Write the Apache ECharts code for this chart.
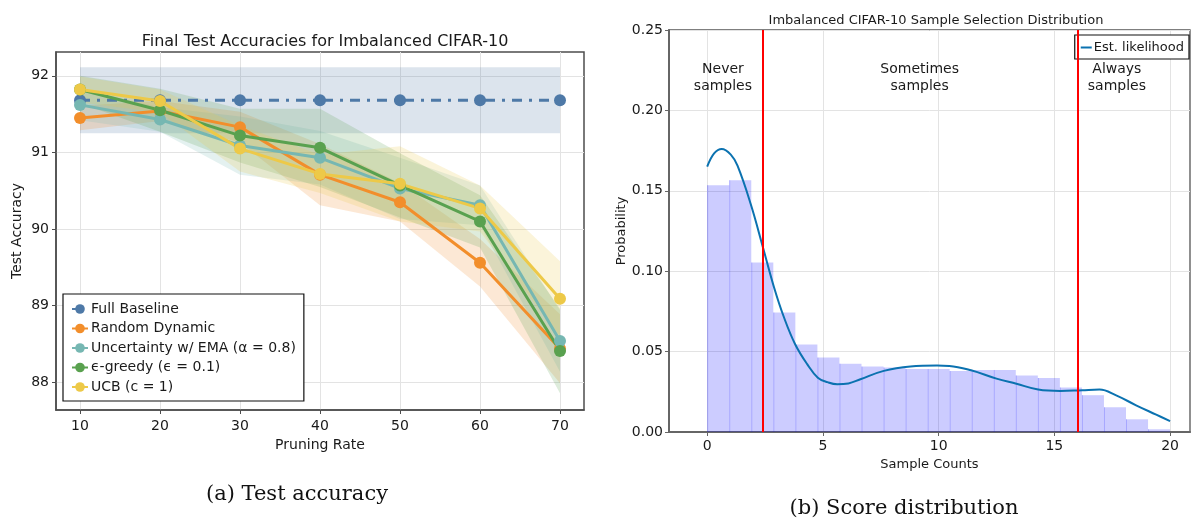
<!DOCTYPE html>
<html><head><meta charset="utf-8">
<script src="https://cdn.jsdelivr.net/npm/echarts@6/dist/echarts.min.js"></script>
<style>html,body{margin:0;padding:0;background:#fff}#c{width:1191px;height:520px}</style>
</head><body><div id="c"></div>
<script>
// ---------- Left panel data ----------
const pruningRates = [10, 20, 30, 40, 50, 60, 70];
const accTicks = [88, 89, 90, 91, 92];
const baselineMean = [91.68, 91.68, 91.68, 91.68, 91.68, 91.68, 91.68];
const baselineStd = [0.43, 0.43, 0.43, 0.43, 0.43, 0.43, 0.43];
const randomMean = [91.45, 91.54, 91.33, 90.71, 90.35, 89.56, 88.44];
const randomStd = [0.16, 0.13, 0.20, 0.40, 0.25, 0.31, 0.45];
const uncertaintyMean = [91.62, 91.43, 91.09, 90.93, 90.53, 90.31, 88.54];
const uncertaintyStd = [0.20, 0.16, 0.38, 0.35, 0.40, 0.26, 0.40];
const greedyMean = [91.82, 91.55, 91.22, 91.06, 90.57, 90.10, 88.41];
const greedyStd = [0.18, 0.28, 0.35, 0.51, 0.42, 0.34, 0.55];
const ucbMean = [91.82, 91.67, 91.05, 90.72, 90.59, 90.27, 89.09];
const ucbStd = [0.17, 0.15, 0.30, 0.25, 0.49, 0.30, 0.49];
const seriesNames = ['Full Baseline', 'Random Dynamic', 'Uncertainty w/ EMA (α = 0.8)', 'ϵ-greedy (ϵ = 0.1)', 'UCB (c = 1)'];

// ---------- Right panel data ----------
const histHeights = [0.1535, 0.1566, 0.1054, 0.0743, 0.0544, 0.0463, 0.0425, 0.0407, 0.0401, 0.0392,
  0.0392, 0.0379, 0.0386, 0.0386, 0.0352, 0.0336, 0.0277, 0.0229, 0.0154, 0.0079, 0.0017];
const histRange = [0, 20];
const kdeX = [0, 0.3, 0.63, 1.02, 1.31, 1.88, 2.41, 2.89, 3.32, 3.8, 4.32, 4.78, 5.2, 5.62, 6.1, 6.62,
  7.63, 8.78, 9.93, 10.46, 11.4, 12.5, 13.36, 14.3, 15.26, 16.2, 16.95, 17.67, 18.53, 19.4, 20];
const kdeY = [0.165, 0.1733, 0.176, 0.1725, 0.1656, 0.1418, 0.1148, 0.0899, 0.0712, 0.0546, 0.0422, 0.0338,
  0.0310, 0.0297, 0.0302, 0.0328, 0.0380, 0.0407, 0.0413, 0.0411, 0.0384, 0.0332, 0.0300, 0.0264, 0.0255,
  0.0260, 0.0264, 0.0228, 0.0166, 0.0108, 0.0068];
const thresholds = [2.4, 16.0];
const countTicks = [0, 5, 10, 15, 20];
const annotations = [
  { x: 0.68, y: 0.22, text: 'Never\nsamples' },
  { x: 9.18, y: 0.22, text: 'Sometimes\nsamples' },
  { x: 17.7, y: 0.22, text: 'Always\nsamples' }
];

// ---------- Styling ----------
const FONT = '"DejaVu Sans", sans-serif';
const colors = ['#4e79a7', '#f28e2b', '#76b7b2', '#59a14f', '#edc948'];
function rgba(hex, a) {
  const n = parseInt(hex.slice(1), 16);
  return `rgba(${(n >> 16) & 255},${(n >> 8) & 255},${n & 255},${a})`;
}
const gridLine = { show: true, lineStyle: { color: '#e3e3e3', width: 1 } };
const axisTxt = { color: '#1a1a1a', fontFamily: FONT };

const means = [baselineMean, randomMean, uncertaintyMean, greedyMean, ucbMean];
const stds = [baselineStd, randomStd, uncertaintyStd, greedyStd, ucbStd];

const series = [];
means.forEach((m, i) => {
  const s = stds[i];
  // band: one polygon through mean ± std, drawn through the axis scales
  series.push({
    type: 'custom', xAxisIndex: 0, yAxisIndex: 0, silent: true,
    encode: { x: 0, y: 1 },
    data: pruningRates.map((x, k) => [x, m[k]]),
    renderItem: (params, api) => {
      if (params.dataIndex !== 0) return null;
      const upper = pruningRates.map((x, k) => api.coord([x, m[k] + s[k]]));
      const lower = pruningRates.map((x, k) => api.coord([x, m[k] - s[k]])).reverse();
      return { type: 'polygon', shape: { points: upper.concat(lower) },
        style: { fill: rgba(colors[i], 0.2) } };
    }
  });
  series.push({
    name: seriesNames[i], type: 'line', xAxisIndex: 0, yAxisIndex: 0,
    symbol: 'circle', symbolSize: 12, showSymbol: true,
    itemStyle: { color: colors[i] },
    lineStyle: { color: colors[i], width: 3, type: i === 0 ? [10, 7, 3, 7] : 'solid' },
    emphasis: { disabled: true },
    data: pruningRates.map((x, k) => [x, m[k]])
  });
});

// histogram
const binW = (histRange[1] - histRange[0]) / histHeights.length;
const histData = histHeights.map((h, i) => [histRange[0] + i * binW, histRange[0] + (i + 1) * binW, h]);
series.push({
  type: 'custom', xAxisIndex: 1, yAxisIndex: 1, silent: true,
  encode: { x: [0, 1], y: 2 },
  data: histData,
  renderItem: (params, api) => {
    const p0 = api.coord([api.value(0), 0]);
    const p1 = api.coord([api.value(1), api.value(2)]);
    return {
      type: 'group', children: [
        { type: 'rect', shape: { x: p0[0], y: p1[1], width: p1[0] - p0[0], height: p0[1] - p1[1] },
          style: { fill: 'rgba(0,0,255,0.2)' } },
        { type: 'line', shape: { x1: p0[0] + 0.5, y1: p0[1], x2: p0[0] + 0.5, y2: p1[1] },
          style: { stroke: 'rgba(0,0,255,0.18)', lineWidth: 1 } }
      ]
    };
  }
});
// KDE
series.push({
  name: 'Est. likelihood', type: 'line', xAxisIndex: 1, yAxisIndex: 1,
  symbol: 'none', smooth: 0.4, silent: true,
  lineStyle: { color: '#0b72b0', width: 2 }, itemStyle: { color: '#0b72b0' },
  data: kdeX.map((x, i) => [x, kdeY[i]]),
  markLine: {
    silent: true, symbol: ['none', 'none'], label: { show: false },
    lineStyle: { color: '#ff0000', width: 2, type: 'solid' },
    emphasis: { disabled: true },
    data: thresholds.map(v => ({ xAxis: v }))
  }
});
// annotations
series.push({
  type: 'custom', xAxisIndex: 1, yAxisIndex: 1, silent: true,
  encode: { x: 0, y: 1 },
  data: annotations.map(a => [a.x, a.y]),
  renderItem: (params, api) => {
    const p = api.coord([api.value(0), api.value(1)]);
    return {
      type: 'text', x: p[0], y: p[1],
      style: { text: annotations[params.dataIndex].text, font: '14px ' + FONT, fill: '#1a1a1a',
        align: 'center', verticalAlign: 'middle', lineHeight: 17 }
    };
  }
});

const option = {
  animation: false,
  backgroundColor: '#fff',
  title: [
    { text: 'Final Test Accuracies for Imbalanced CIFAR-10', left: 320, top: 29, textAlign: 'center',
      textStyle: { fontFamily: FONT, fontSize: 16, fontWeight: 'normal', color: '#1a1a1a' } },
    { text: 'Imbalanced CIFAR-10 Sample Selection Distribution', left: 931, top: 9, textAlign: 'center',
      textStyle: { fontFamily: FONT, fontSize: 13, fontWeight: 'normal', color: '#1a1a1a' } }
  ],
  grid: [
    { left: 56, top: 52, width: 528, height: 358, show: true, borderColor: '#4d4d4d', borderWidth: 1.5, backgroundColor: 'transparent' },
    { left: 669, top: 30, width: 521, height: 402, show: true, borderColor: '#555', borderWidth: 1.3, backgroundColor: 'transparent' }
  ],
  xAxis: [
    { type: 'value', gridIndex: 0, min: 7, max: 73,
      name: 'Pruning Rate', nameLocation: 'middle', nameGap: 28,
      nameTextStyle: { fontFamily: FONT, fontSize: 14, color: '#1a1a1a' },
      axisLine: { show: true, onZero: false, lineStyle: { color: '#4d4d4d', width: 1.5 } },
      axisTick: { show: true, length: 4, customValues: pruningRates, lineStyle: { color: '#4d4d4d' } },
      axisLabel: { customValues: pruningRates, fontSize: 14, margin: 9, ...axisTxt },
      splitLine: gridLine },
    { type: 'value', gridIndex: 1, min: -1.65, max: 20.86,
      name: 'Sample Counts', nameLocation: 'middle', nameGap: 24,
      nameTextStyle: { fontFamily: FONT, fontSize: 13, color: '#1a1a1a' },
      axisLine: { show: true, onZero: false, lineStyle: { color: '#666', width: 2 } },
      axisTick: { show: true, length: 4, customValues: countTicks, lineStyle: { color: '#666' } },
      axisLabel: { customValues: countTicks, fontSize: 14, margin: 7, ...axisTxt },
      splitLine: gridLine }
  ],
  yAxis: [
    { type: 'value', gridIndex: 0, min: 87.64, max: 92.31,
      name: 'Test Accuracy', nameLocation: 'middle', nameGap: 32,
      nameTextStyle: { fontFamily: FONT, fontSize: 14, color: '#1a1a1a' },
      axisLine: { show: true, onZero: false, lineStyle: { color: '#4d4d4d', width: 1.5 } },
      axisTick: { show: true, length: 4, customValues: accTicks, lineStyle: { color: '#4d4d4d' } },
      axisLabel: { customValues: accTicks, fontSize: 14, margin: 7, ...axisTxt },
      splitLine: gridLine },
    { type: 'value', gridIndex: 1, min: 0, max: 0.25, interval: 0.05,
      name: 'Probability', nameLocation: 'middle', nameGap: 40,
      nameTextStyle: { fontFamily: FONT, fontSize: 13, color: '#1a1a1a' },
      axisLine: { show: true, onZero: false, lineStyle: { color: '#666', width: 2 } },
      axisTick: { show: true, length: 4, lineStyle: { color: '#666' } },
      axisLabel: { fontSize: 14, margin: 6, formatter: v => v.toFixed(2), ...axisTxt },
      splitLine: gridLine }
  ],
  legend: [
    { data: seriesNames, orient: 'vertical', left: 63, top: 294,
      padding: [8, 8, 7, 8], itemGap: 5.5, itemWidth: 16, itemHeight: 12,
      backgroundColor: '#fff', borderColor: '#111', borderWidth: 1.2, borderRadius: 0,
      selectedMode: false,
      textStyle: { fontFamily: FONT, fontSize: 14, color: '#1a1a1a', lineHeight: 14, padding: [0, 0, 0, -2] } },
    { data: ['Est. likelihood'], right: 2, top: 35, orient: 'vertical',
      padding: [6, 5, 5, 6], itemWidth: 11, itemHeight: 2, icon: 'rect',
      backgroundColor: '#fff', borderColor: '#111', borderWidth: 1.2, selectedMode: false,
      textStyle: { fontFamily: FONT, fontSize: 13, color: '#1a1a1a', padding: [0, 0, 0, -3] } }
  ],
  graphic: [
    { type: 'text', x: 297, y: 495, style: { text: '(a) Test accuracy', font: '21px "DejaVu Serif", serif', fill: '#111', align: 'center', verticalAlign: 'middle' } },
    { type: 'text', x: 904, y: 509, style: { text: '(b) Score distribution', font: '21px "DejaVu Serif", serif', fill: '#111', align: 'center', verticalAlign: 'middle' } }
  ],
  series: series
};
const chart = echarts.init(document.getElementById('c'), null, { renderer: 'canvas' });
chart.setOption(option);
</script></body></html>
